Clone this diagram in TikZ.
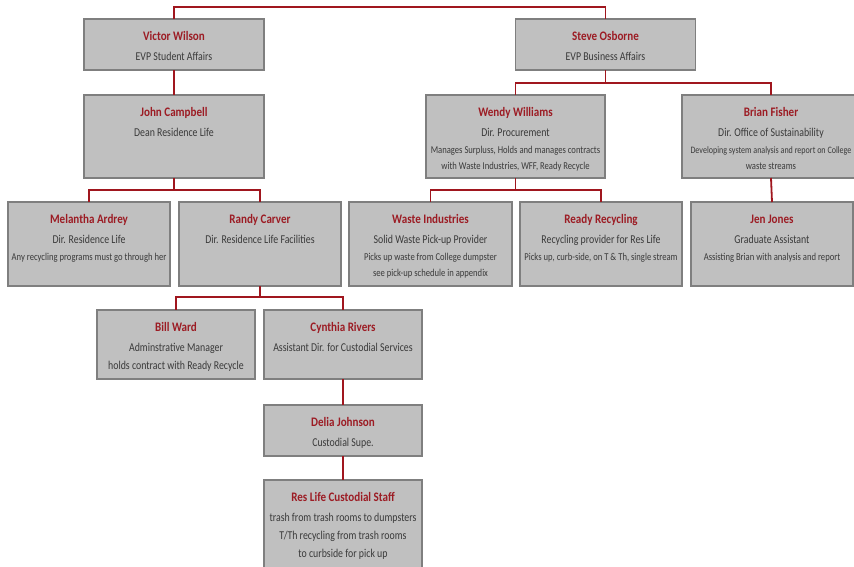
\documentclass[tikz,border=0pt]{standalone}
\usepackage{fontspec}
\setmainfont{Carlito}[FakeStretch=0.82]
\newfontfamily\namefont{Carlito}[FakeStretch=0.85]
\definecolor{boxfill}{HTML}{C0C0C0}
\definecolor{boxedge}{HTML}{7F7F7F}
\definecolor{namered}{HTML}{9C1C24}
\definecolor{textgray}{HTML}{3A3A3A}
\definecolor{linkred}{HTML}{A0161E}
\newcommand\nm[1]{\namefont\fontsize{13}{15}\selectfont\bfseries\color{namered}\makebox[\linewidth]{\rule{0pt}{21pt}#1}\par}
\newcommand\tl[2][20]{\normalfont\fontsize{12}{#1}\selectfont\color{textgray}\makebox[\linewidth]{#2}\par}
\newcommand\ds[2][17.5]{\normalfont\fontsize{10.5}{#1}\selectfont\color{textgray}\makebox[\linewidth]{#2}\par}
\newcommand\dsn[2][17.5]{\normalfont\fontsize{9.8}{#1}\selectfont\color{textgray}\makebox[\linewidth]{#2}\par}
\newcommand\ob[3]{\parbox[c][#2][t]{#1}{\centering #3}}
\tikzset{
  orgbox/.style={draw=boxedge, fill=boxfill, line width=1.5pt, inner sep=0pt, outer sep=0pt, anchor=north west},
  link/.style={draw=linkred, line width=1.8pt}
}
\begin{document}
\begin{tikzpicture}[x=1pt,y=-1pt]
\useasboundingbox (0,0) rectangle (854,566);
\clip (0,0) rectangle (854,566);
\fill[white] (0,0) rectangle (854,566);
% row 1
\node[orgbox] (vw) at (84,19) {\ob{180pt}{51pt}{\nm{Victor Wilson}\tl{EVP Student Affairs}}};
\node[orgbox] (so) at (515.5,19) {\ob{180pt}{51pt}{\nm{Steve Osborne}\tl{EVP Business Affairs}}};
% row 2
\node[orgbox] (jc) at (84,95) {\ob{180pt}{83pt}{\nm{John Campbell}\tl{Dean Residence Life}}};
\node[orgbox] (ww) at (426,95) {\ob{179pt}{83pt}{\nm{Wendy Williams}\tl{Dir. Procurement}\ds[17]{Manages Surpluss, Holds and manages contracts}\ds[16.5]{with Waste Industries, WFF, Ready Recycle}}};
\node[orgbox] (bf) at (682,95) {\ob{178pt}{83pt}{\nm{Brian Fisher}\tl{Dir. Office of Sustainability}\dsn[17]{Developing system analysis and report on College}\ds[16.5]{waste streams}}};
% row 3
\node[orgbox] (ma) at (8,202) {\ob{162pt}{84pt}{\nm{Melantha Ardrey}\tl{Dir. Residence Life}\ds{Any recycling programs must go through her}}};
\node[orgbox] (rc) at (179,202) {\ob{162pt}{84pt}{\nm{Randy Carver}\tl{Dir. Residence Life Facilities}}};
\node[orgbox] (wi) at (349,202) {\ob{163pt}{84pt}{\nm{Waste Industries}\tl{Solid Waste Pick-up Provider}\ds{Picks up waste from College dumpster}\ds[16]{see pick-up schedule in appendix}}};
\node[orgbox] (rr) at (520,202) {\ob{162pt}{84pt}{\nm{Ready Recycling}\tl{Recycling provider for Res Life}\ds{Picks up, curb-side, on T \& Th, single stream}}};
\node[orgbox] (jj) at (691,202) {\ob{162pt}{84pt}{\nm{Jen Jones}\tl{Graduate Assistant}\ds{Assisting Brian with analysis and report}}};
% row 4
\node[orgbox] (bw) at (97,310) {\ob{158pt}{69pt}{\nm{Bill Ward}\tl{Adminstrative Manager}\tl[18]{holds contract with Ready Recycle}}};
\node[orgbox] (cr) at (264,310) {\ob{158pt}{69pt}{\nm{Cynthia Rivers}\tl{Assistant Dir. for Custodial Services}}};
% row 5
\node[orgbox] (dj) at (264,405) {\ob{158pt}{51pt}{\nm{Delia Johnson}\tl{Custodial Supe.}}};
% row 6
\node[orgbox] (rl) at (264,480) {\ob{158pt}{100pt}{\nm{Res Life Custodial Staff}\tl{trash from trash rooms to dumpsters}\tl[18.5]{T/Th recycling from trash rooms}\tl[17.5]{to curbside for pick up}}};
% connectors
\draw[link] (vw.north) -- ++(0,-12) -| (so.north);
\draw[link] (vw.south) -- (jc.north);
\draw[link] (so.south) -- ++(0,13) -| (ww.north);
\draw[link] (so.south) -- ++(0,13) -| (bf.north);
\draw[link] (jc.south) -- ++(0,12) -| (ma.north);
\draw[link] (jc.south) -- ++(0,12) -| (rc.north);
\draw[link] (ww.south) -- ++(0,12) -| (wi.north);
\draw[link] (ww.south) -- ++(0,12) -| (rr.north);
\draw[link] (bf.south) -- (jj.north);
\draw[link] (rc.south) -- ++(0,11) -| (bw.north);
\draw[link] (rc.south) -- ++(0,11) -| (cr.north);
\draw[link] (cr.south) -- (dj.north);
\draw[link] (dj.south) -- (rl.north);
\end{tikzpicture}
\end{document}
